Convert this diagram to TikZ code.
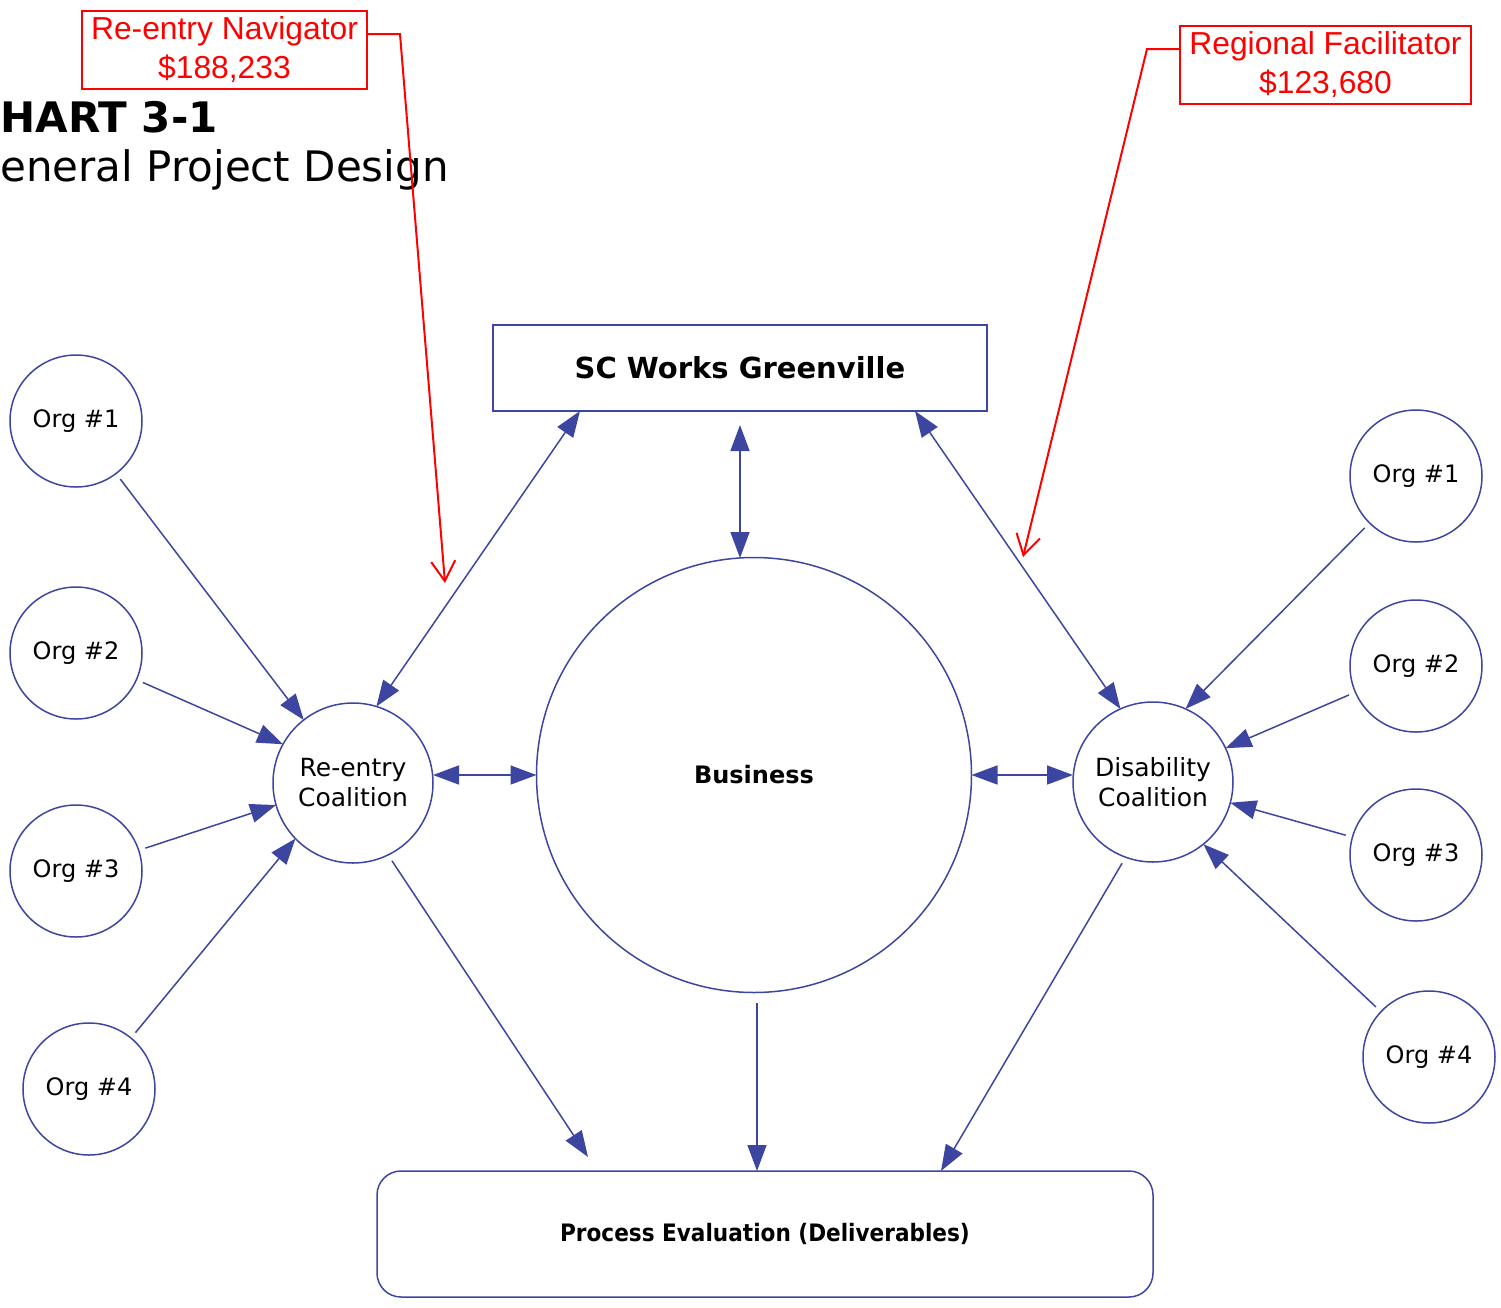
\documentclass[tikz,border=0pt]{standalone}
\usepackage{fontspec}
\setmainfont{DejaVu Sans}
\newfontfamily\arialfont{Liberation Sans}
\newfontfamily\narrowfont[FakeStretch=0.9]{DejaVu Sans}
\usetikzlibrary{arrows.meta}
\definecolor{linkblue}{RGB}{60,70,160}

\begin{document}
\begin{tikzpicture}[x=0.5pt, y=-0.5pt,
  org/.style={circle, draw=linkblue, line width=0.75pt, minimum size=66pt,
    inner sep=0pt, outer sep=0pt, font=\fontsize{12}{14}\selectfont},
  coalition/.style={org, minimum size=80pt, align=center,
    font=\fontsize{12.5}{15}\selectfont},
  note/.style={draw=red, line width=1pt, text=red, align=center,
    minimum height=39pt, inner sep=0pt, font=\arialfont\fontsize{15.9}{19.5}\selectfont},
  link/.style={draw=linkblue, line width=0.75pt, -{Triangle[length=13pt,width=9.5pt]}},
  both/.style={link, {Triangle[length=13pt,width=9.5pt]}-{Triangle[length=13pt,width=9.5pt]}},
  pointer/.style={draw=red, line width=1pt, -{Straight Barb[length=10pt,width=12pt]}}]
  \useasboundingbox (0,0) rectangle (1501,1308);

  \node[anchor=base west, inner sep=0pt, font=\bfseries\fontsize{21}{25}\selectfont]
    (charttitle) at (0,132) {HART 3-1};
  \node[anchor=base west, inner sep=0pt, font=\fontsize{21}{25}\selectfont]
    (chartsub) at (0,181) {eneral Project Design};

  \node[draw=linkblue, line width=0.75pt, minimum width=247pt, minimum height=43pt,
    inner sep=0pt, outer sep=0pt, font=\bfseries\fontsize{14.5}{17}\selectfont]
    (works) at (740,368) {SC Works Greenville};
  \node[circle, draw=linkblue, line width=0.75pt, minimum size=217.5pt, inner sep=0pt,
    outer sep=0pt, font=\bfseries\fontsize{12}{14}\selectfont] (bus) at (754,775) {Business};
  \node[draw=linkblue, line width=0.75pt, rounded corners=12pt, minimum width=388pt,
    minimum height=63pt, inner sep=0pt, outer sep=0pt,
    font=\narrowfont\bfseries\fontsize{12}{14}\selectfont]
    (proc) at (765,1234) {Process Evaluation (Deliverables)};

  \node[coalition] (re) at (353,783) {Re-entry\\Coalition};
  \node[coalition] (dis) at (1153,782) {Disability\\Coalition};

  \node[org] (lo1) at (76,421) {Org \#1};
  \node[org] (lo2) at (76,653) {Org \#2};
  \node[org] (lo3) at (76,871) {Org \#3};
  \node[org] (lo4) at (89,1089) {Org \#4};
  \node[org] (ro1) at (1416,476) {Org \#1};
  \node[org] (ro2) at (1416,666) {Org \#2};
  \node[org] (ro3) at (1416,855) {Org \#3};
  \node[org] (ro4) at (1429,1057) {Org \#4};

  \node[note, minimum width=142.5pt] (nav) at (224.5,50) {Re-entry Navigator\\\$188,233};
  \node[note, minimum width=145.5pt] (facil) at (1325.5,65) {Regional Facilitator\\\$123,680};

  \coordinate (worksL) at (580,411);
  \coordinate (worksR) at (915,411);
  \coordinate (worksM) at (740,425);
  \coordinate (busM) at (740,558);
  \coordinate (busB) at (757,1003);
  \coordinate (procL) at (588,1157);
  \coordinate (procR) at (941,1171);
  \coordinate (navbend) at (400,34);
  \coordinate (navtip) at (445,583);
  \coordinate (facbend) at (1147,49);
  \coordinate (factip) at (1023,557);

  \foreach \o/\a in {lo1/128,lo2/151,lo3/196,lo4/224}
    \draw[link, shorten <=3.5pt] (\o) -- (re.\a);
  \foreach \o/\a in {ro1/66,ro2/25,ro3/-15,ro4/-51}
    \draw[link, shorten <=3.5pt] (\o) -- (dis.\a);

  \draw[both] (worksL) -- (re.73);
  \draw[both] (worksR) -- (dis.114);
  \draw[both] (worksM) -- (busM);
  \draw[both] (re.east |- bus.west) -- (bus.west);
  \draw[both] (bus.east) -- (dis.west |- bus.east);

  \draw[link, shorten <=3.5pt] (re.-64) -- (procL);
  \draw[link] (busB) -- (busB |- proc.north);
  \draw[link, shorten <=3.5pt] (dis.-110) -- (procR);

  \draw[pointer] (nav.east |- navbend) -- (navbend) -- (navtip);
  \draw[pointer] (facil.west |- facbend) -- (facbend) -- (factip);
\end{tikzpicture}
\end{document}
